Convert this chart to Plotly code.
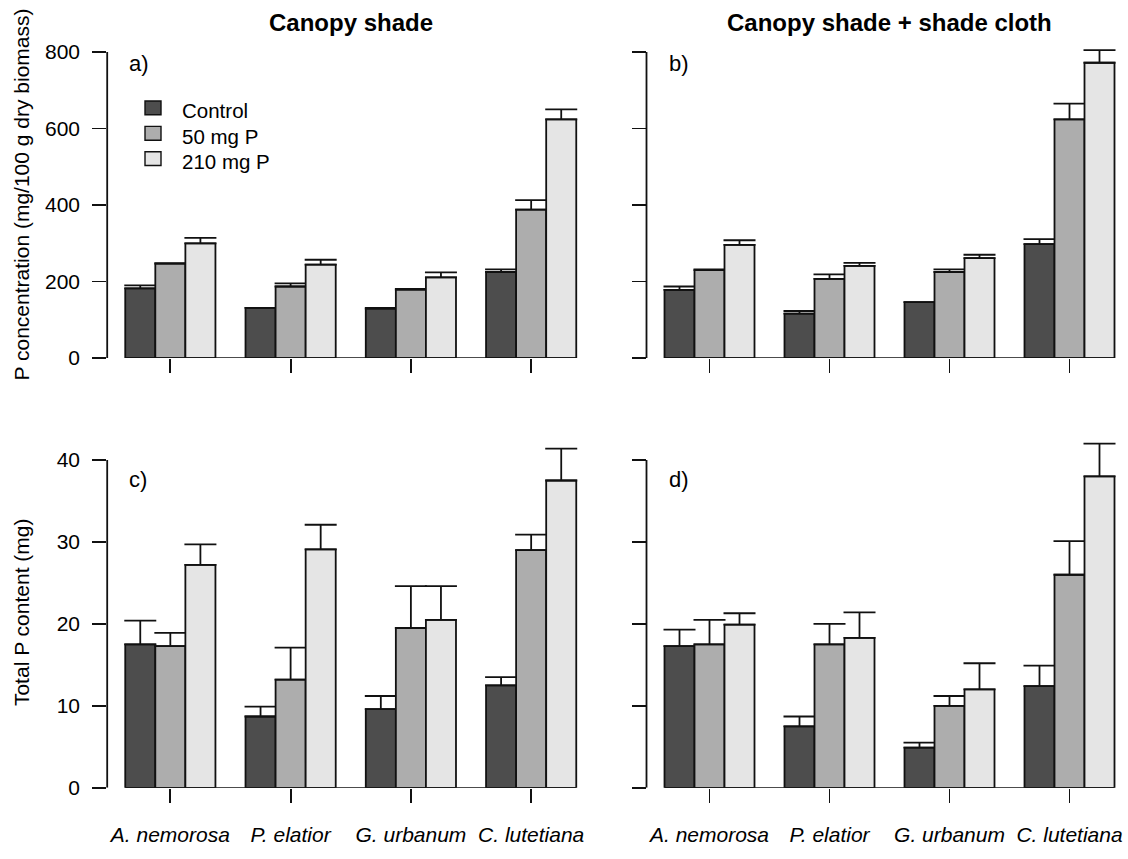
import plotly.graph_objects as go

W, H = 1128, 859

species = ["A. nemorosa", "P. elatior", "G. urbanum", "C. lutetiana"]
treatments = ["Control", "50 mg P", "210 mg P"]
colors = ["#4d4d4d", "#adadad", "#e5e5e5"]

# Panel a: canopy shade, P concentration (mean, upper error limit)
a_ctrl = [182, 131, 129, 225]
a_ctrl_up = [190, 131, 131, 232]
a_50 = [247, 187, 179, 388]
a_50_up = [248, 195, 181, 413]
a_210 = [300, 244, 211, 624]
a_210_up = [314, 257, 224, 650]

# Panel b: canopy shade + shade cloth, P concentration
b_ctrl = [178, 116, 146, 298]
b_ctrl_up = [187, 123, 146, 311]
b_50 = [230, 207, 225, 624]
b_50_up = [232, 219, 232, 665]
b_210 = [296, 241, 261, 772]
b_210_up = [308, 249, 270, 805]

# Panel c: canopy shade, total P content
c_ctrl = [17.5, 8.7, 9.6, 12.5]
c_ctrl_up = [20.4, 9.9, 11.2, 13.5]
c_50 = [17.3, 13.2, 19.5, 29.0]
c_50_up = [18.9, 17.1, 24.6, 30.9]
c_210 = [27.2, 29.1, 20.5, 37.5]
c_210_up = [29.7, 32.1, 24.6, 41.4]

# Panel d: canopy shade + shade cloth, total P content
d_ctrl = [17.3, 7.5, 4.9, 12.4]
d_ctrl_up = [19.3, 8.7, 5.5, 14.9]
d_50 = [17.5, 17.5, 10.0, 26.0]
d_50_up = [20.5, 20.0, 11.2, 30.1]
d_210 = [19.9, 18.3, 12.0, 38.0]
d_210_up = [21.3, 21.4, 15.2, 42.0]

conc_ticks = [0, 200, 400, 600, 800]
cont_ticks = [0, 10, 20, 30, 40]

panels = [
    dict(name="a", ax="x", ay="y", means=[a_ctrl, a_50, a_210], ups=[a_ctrl_up, a_50_up, a_210_up]),
    dict(name="b", ax="x2", ay="y2", means=[b_ctrl, b_50, b_210], ups=[b_ctrl_up, b_50_up, b_210_up]),
    dict(name="c", ax="x3", ay="y3", means=[c_ctrl, c_50, c_210], ups=[c_ctrl_up, c_50_up, c_210_up]),
    dict(name="d", ax="x4", ay="y4", means=[d_ctrl, d_50, d_210], ups=[d_ctrl_up, d_50_up, d_210_up]),
]

def px(x):
    return x / W

def py(y):
    return 1 - y / H

FONT = "Liberation Sans, Arial, sans-serif"
LINE = "#111111"
LW = 1.8

fig = go.Figure()

for p in panels:
    for k in range(3):
        m = p["means"][k]
        u = p["ups"][k]
        fig.add_trace(go.Bar(
            x=species, y=m, xaxis=p["ax"], yaxis=p["ay"],
            name=treatments[k], showlegend=False, hoverinfo="skip",
            marker=dict(color=colors[k], line=dict(color=LINE, width=LW)),
            error_y=dict(type="data", symmetric=False,
                         array=[uu - mm for uu, mm in zip(u, m)],
                         arrayminus=[0] * len(m),
                         color=LINE, thickness=LW, width=16),
        ))

# geometry (page pixels)
row_top = dict(y0=362.7, scale=310 / 800, vmax=830)
row_bot = dict(y0=798.0, scale=8.3, vmax=43.5)
col_a = dict(x0=107.2, x1=594.3, r1=3.525)
col_b = dict(x0=646.5, x1=W, r1=3.4875)
r0 = -0.525

def ydom(r):
    top = r["y0"] - r["vmax"] * r["scale"]
    return [py(r["y0"]), py(top)]

layout_axes = {}
cfg = [("xaxis", "yaxis", col_a, row_top, conc_ticks, True, False),
       ("xaxis2", "yaxis2", col_b, row_top, conc_ticks, False, False),
       ("xaxis3", "yaxis3", col_a, row_bot, cont_ticks, True, True),
       ("xaxis4", "yaxis4", col_b, row_bot, cont_ticks, False, True)]
for i, (xa, ya, col, row, ticks, ylab, xlab) in enumerate(cfg):
    anchor_x = "y" if i == 0 else "y%d" % (i + 1)
    anchor_y = "x" if i == 0 else "x%d" % (i + 1)
    layout_axes[xa] = dict(
        domain=[px(col["x0"]), min(1.0, px(col["x1"]))], range=[r0, col["r1"]],
        anchor=anchor_x, type="category", showgrid=False, zeroline=False, showline=False,
        ticks="outside", ticklen=14, tickwidth=LW, tickcolor=LINE,
        showticklabels=xlab, ticklabelstandoff=14, fixedrange=True,
        tickfont=dict(family=FONT, size=21, color="#000000", style="italic"),
    )
    layout_axes[ya] = dict(
        domain=ydom(row), range=[0, row["vmax"]], anchor=anchor_y,
        showgrid=False, zeroline=False, showline=False, fixedrange=True,
        tickvals=ticks, ticks="outside", ticklen=14, tickwidth=LW, tickcolor=LINE,
        showticklabels=ylab, ticklabelstandoff=8,
        tickfont=dict(family=FONT, size=21, color="#000000"),
    )

shapes = []
for i, (xa, ya, col, row, ticks, ylab, xlab) in enumerate(cfg):
    xr = "x" if i == 0 else "x%d" % (i + 1)
    yr = "y" if i == 0 else "y%d" % (i + 1)
    # y axis line from first to last tick
    shapes.append(dict(type="line", xref=xr + " domain", yref=yr, x0=0, x1=0,
                       y0=ticks[0], y1=ticks[-1], line=dict(color=LINE, width=LW)))
    # baseline under bars (from first bar edge to last bar edge)
    shapes.append(dict(type="line", xref=xr, yref=yr, x0=-0.375, x1=len(species) - 1 + 0.375,
                       y0=0, y1=0, line=dict(color=LINE, width=LW)))

# legend keys in panel a
leg_y = [109.3, 135.0, 160.7]
for k in range(3):
    shapes.append(dict(type="rect", xref="paper", yref="paper",
                       x0=px(145), x1=px(161), y0=py(leg_y[k] + 7), y1=py(leg_y[k] - 7),
                       fillcolor=colors[k], line=dict(color=LINE, width=1.4)))

ann = []
def text(x, y, s, size, bold=False, xanchor="center", angle=0):
    ann.append(dict(x=px(x), y=py(y), xref="paper", yref="paper", text=("<b>%s</b>" % s) if bold else s,
                    showarrow=False, xanchor=xanchor, yanchor="middle", textangle=angle,
                    font=dict(family=FONT, size=size, color="#000000")))

text(350.5, 23, "Canopy shade", 24, bold=True)
text(889, 23, "Canopy shade + shade cloth", 24, bold=True)
text(127, 64, "a)", 22, xanchor="left")
text(667, 64, "b)", 22, xanchor="left")
text(127, 486, "c)", 22, xanchor="left")
text(667, 486, "d)", 22, xanchor="left")
text(21, 197, "P concentration (mg/100 g dry biomass)", 21, angle=-90)
text(21, 620, "Total P content (mg)", 21, angle=-90)
for k in range(3):
    text(180, leg_y[k] + 3, treatments[k], 20.5, xanchor="left")

fig.update_layout(
    width=W, height=H, margin=dict(l=0, r=0, t=0, b=0),
    paper_bgcolor="white", plot_bgcolor="white",
    barmode="group", bargap=0.25, bargroupgap=0,
    shapes=shapes, annotations=ann, showlegend=False,
    hovermode=False, dragmode=False,
    **layout_axes,
)

fig.write_html(
    "out.html",
    config={"displayModeBar": False, "staticPlot": True},
    post_script="document.body.style.margin='0';document.body.style.padding='0';"
                "document.body.style.overflow='hidden';",
)
